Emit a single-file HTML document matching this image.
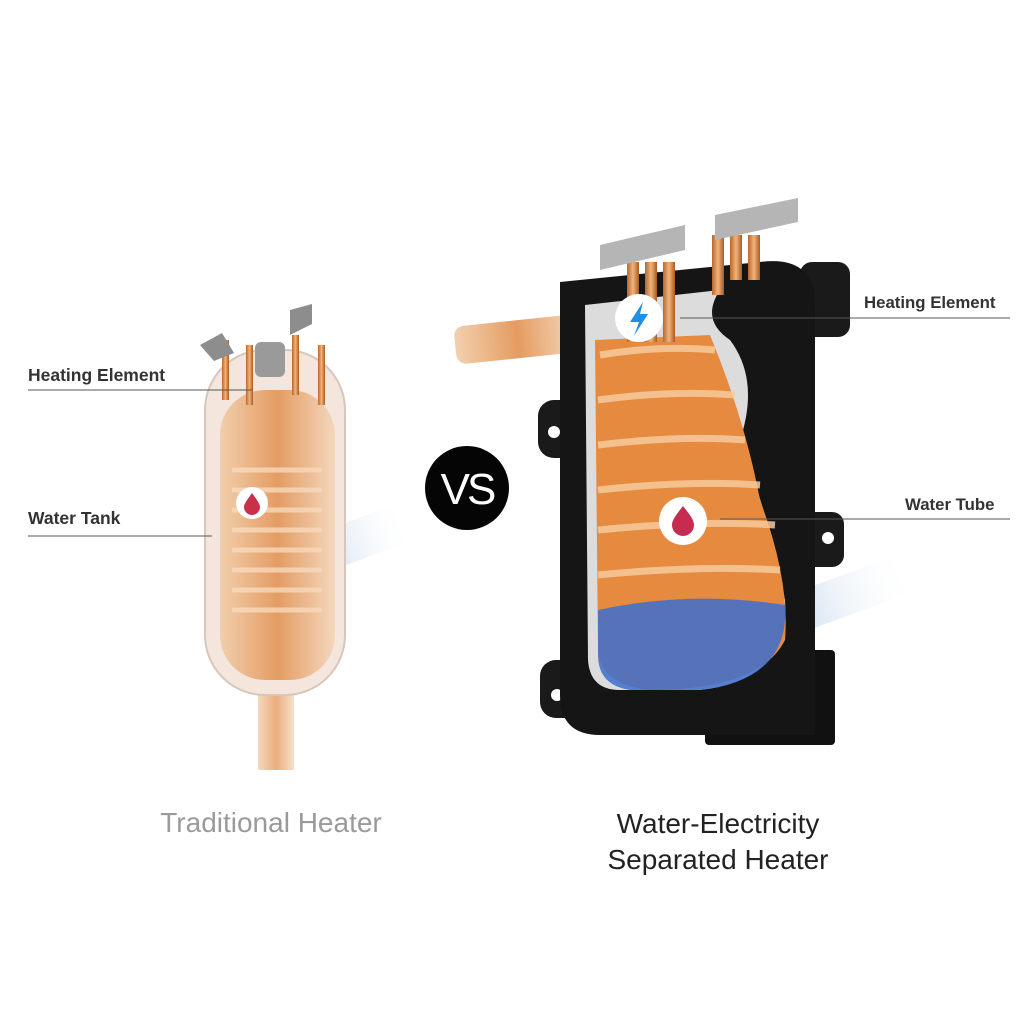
<!DOCTYPE html>
<html><head><meta charset="utf-8"><style>
html,body{margin:0;padding:0;background:#fff;}
body{width:1024px;height:1024px;position:relative;overflow:hidden;font-family:"Liberation Sans",sans-serif;}
.lbl{position:absolute;font-weight:bold;font-size:17.5px;color:#333;}
.cap{position:absolute;font-size:28px;text-align:center;}
</style></head><body>
<svg width="1024" height="1024" style="position:absolute;left:0;top:0">
<defs>
<linearGradient id="og" x1="0" x2="1"><stop offset="0" stop-color="#f0c8a0"/><stop offset=".5" stop-color="#e08a45"/><stop offset="1" stop-color="#f3d3b5"/></linearGradient>
<linearGradient id="cu" x1="0" x2="1"><stop offset="0" stop-color="#b8672e"/><stop offset=".5" stop-color="#f0b47a"/><stop offset="1" stop-color="#a85a25"/></linearGradient>
<linearGradient id="bl" x1="0" x2="1"><stop offset="0" stop-color="#dce8f4"/><stop offset="1" stop-color="#ffffff" stop-opacity="0"/></linearGradient>
</defs>
<rect x="258" y="690" width="36" height="80" fill="url(#og)" opacity=".7"/>
<rect x="330" y="515" width="80" height="40" fill="url(#bl)" transform="rotate(-20 370 535)"/>
<rect x="205" y="350" width="140" height="345" rx="60" fill="#f4e6dc" stroke="#d9c6ba" stroke-width="2"/>
<rect x="220" y="390" width="115" height="290" rx="45" fill="url(#og)" opacity=".8"/>
<g fill="none" stroke="#f7d8bb" stroke-width="5" opacity=".8">
<path d="M232 470h90M232 490h90M232 510h90M232 530h90M232 550h90M232 570h90M232 590h90M232 610h90"/>
</g>
<rect x="222" y="340" width="7" height="60" fill="url(#cu)"/><rect x="246" y="345" width="7" height="60" fill="url(#cu)"/>
<rect x="292" y="335" width="7" height="60" fill="url(#cu)"/><rect x="318" y="345" width="7" height="60" fill="url(#cu)"/>
<rect x="255" y="342" width="30" height="35" rx="6" fill="#9a9a9a"/>
<path d="M290 335l0-25 22-6 0 20z" fill="#8d8d8d"/><path d="M200 345l22-12 12 20-20 8z" fill="#8d8d8d"/>
<circle cx="252" cy="503" r="16" fill="#fff"/><path d="M252 493c-5 7-8 11-8 14a8 8 0 0016 0c0-3-3-7-8-14z" fill="#c9304a"/>
<line x1="28" y1="390" x2="252" y2="390" stroke="#555"/>
<line x1="28" y1="536" x2="212" y2="536" stroke="#555"/>
<circle cx="467" cy="488" r="42" fill="#050505"/>
<text x="467" y="504" font-family="Liberation Sans" font-size="44" fill="#fff" text-anchor="middle" letter-spacing="-3">VS</text>
<rect x="455" y="320" width="125" height="38" rx="10" fill="url(#og)" transform="rotate(-6 520 340)" opacity=".85"/>
<rect x="805" y="570" width="110" height="40" fill="url(#bl)" transform="rotate(-20 860 590)"/>
<rect x="705" y="650" width="130" height="95" rx="4" fill="#111"/>
<rect x="540" y="660" width="50" height="58" rx="16" fill="#1a1a1a"/><circle cx="557" cy="695" r="6" fill="#fff"/>
<rect x="538" y="400" width="50" height="58" rx="16" fill="#1a1a1a"/><circle cx="554" cy="432" r="6" fill="#fff"/>
<rect x="800" y="262" width="50" height="75" rx="12" fill="#1a1a1a"/>
<rect x="800" y="512" width="44" height="55" rx="12" fill="#1a1a1a"/><circle cx="828" cy="538" r="6" fill="#fff"/>
<path d="M560 282 L760 262 Q815 255 815 305 L815 735 L600 735 Q560 735 560 695 Z" fill="#151515"/>
<path d="M585 305 L720 290 Q700 320 730 340 Q760 380 740 440 Q770 520 785 600 Q790 680 700 690 L620 690 Q590 690 588 660 Z" fill="#dcdcdc"/>
<path d="M595 340 L710 335 Q745 420 760 500 Q790 580 785 640 Q760 690 650 690 Q600 685 598 650 Z" fill="#e58a3e"/>
<g fill="none" stroke="#f6c99c" stroke-width="7" opacity=".85">
<path d="M600 355 Q660 345 715 350M598 400 Q670 390 735 395M598 445 Q680 435 745 440M598 490 Q690 480 760 485M598 530 Q700 520 775 525M598 575 Q700 565 780 570"/>
</g>
<path d="M598 610 Q690 590 785 605 Q790 680 700 690 L630 690 Q598 685 598 655 Z" fill="#3d6fd0" opacity=".85"/>
<rect x="627" y="262" width="12" height="80" fill="url(#cu)"/><rect x="645" y="262" width="12" height="80" fill="url(#cu)"/><rect x="663" y="262" width="12" height="80" fill="url(#cu)"/>
<rect x="712" y="235" width="12" height="60" fill="url(#cu)"/><rect x="730" y="235" width="12" height="45" fill="url(#cu)"/><rect x="748" y="235" width="12" height="45" fill="url(#cu)"/>
<path d="M600 245 L685 225 L685 250 L600 270 Z" fill="#b5b5b5"/>
<path d="M715 215 L798 198 L798 222 L715 240 Z" fill="#b5b5b5"/>
<circle cx="639" cy="318" r="24" fill="#fff"/><path d="M643 302 L630 322 L639 322 L634 336 L648 314 L640 314 Z" fill="#1f8fe8"/>
<circle cx="683" cy="521" r="24" fill="#fff"/><path d="M683 506c-7 9-11 14-11 19a11 11 0 0022 0c0-5-4-10-11-19z" fill="#c52c50"/>
<line x1="680" y1="318" x2="1010" y2="318" stroke="#555"/>
<line x1="720" y1="519" x2="1010" y2="519" stroke="#555"/>
</svg>
<div class="lbl" style="left:28px;top:365px">Heating Element</div>
<div class="lbl" style="left:28px;top:508px">Water Tank</div>
<div class="lbl" style="left:864px;top:293px;font-size:16.8px">Heating Element</div>
<div class="lbl" style="left:905px;top:495px;font-size:16.8px">Water Tube</div>
<div class="cap" style="left:110px;width:322px;top:807px;color:#9a9a9a">Traditional Heater</div>
<div class="cap" style="left:550px;width:336px;top:806px;color:#222;line-height:36px">Water-Electricity<br>Separated Heater</div>
</body></html>
